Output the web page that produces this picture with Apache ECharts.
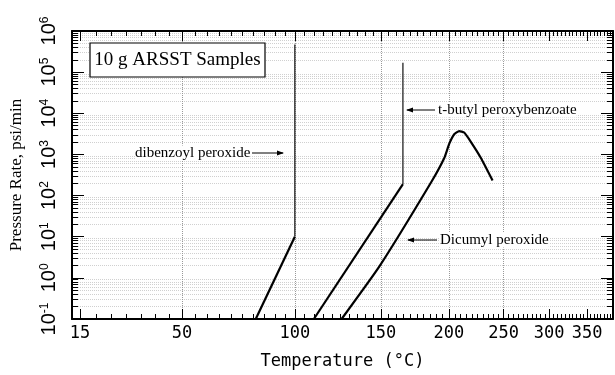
<!DOCTYPE html>
<html>
<head>
<meta charset="utf-8">
<script src="https://cdn.jsdelivr.net/npm/echarts@6/dist/echarts.min.js"></script>
<style>
html, body { margin: 0; padding: 0; background: #fff; }
#main { width: 615px; height: 375px; }
</style>
</head>
<body>
<div id="main"></div>
<script>
// temperature in degC, pressure rate in psi/min
var dbpRamp = [[81, 0.1], [100, 10]];
var dbpSpike = [[100, 10], [100, 4.7e5]];
var tbpbRamp = [[110, 0.1], [165, 190]];
var tbpbSpike = [[165, 190], [165, 1.7e5]];
var dcpCurve = [[125.6, 0.1], [149, 1.9], [186, 214], [196.3, 820], [200.4, 1830],
  [204.5, 3100], [208.7, 3700], [213, 3400], [219, 2000], [228, 820], [239, 233]];

var tempLabels = [15, 50, 100, 150, 200, 250, 300, 350];
var tempGrid = [50, 100, 150, 200, 250];
var tempMinor = [];
for (var t = 15; t <= 385; t += 5) tempMinor.push(t);
var rateMinor = [];
for (var e = -1; e < 6; e++) {
  for (var k = 2; k <= 9; k++) rateMinor.push(k * Math.pow(10, e));
}

// x axis is inverse absolute temperature (Arrhenius style)
function inv(c) { return -1000 / (c + 273.15); }
function toC(v) { return Math.round(-1000 / v - 273.15); }
function conv(arr) { return arr.map(function (p) { return [inv(p[0]), p[1]]; }); }

var xMin = inv(12.6), xMax = inv(389.3);
var chart = echarts.init(document.getElementById('main'));

var xBase = {
  type: 'value', min: xMin, max: xMax,
  axisLine: { show: true, lineStyle: { color: '#000', width: 2 } },
  splitLine: { show: false }
};
var yBase = {
  type: 'log', logBase: 10, min: 0.1, max: 1e6,
  axisLine: { show: true, lineStyle: { color: '#000', width: 2 } },
  splitLine: { show: false }
};
var serif = '"Liberation Serif", "DejaVu Serif", serif';

var option = {
  animation: false,
  grid: { left: 69, right: 2, top: 31, bottom: 44 },
  xAxis: [
    Object.assign({}, xBase, {
      position: 'bottom',
      axisTick: { inside: true, length: 10, customValues: tempLabels.map(inv), lineStyle: { color: '#000' } },
      axisLabel: {
        customValues: tempLabels.map(inv), formatter: toC, margin: 6,
        fontFamily: 'DejaVu Sans Mono', fontSize: 17, color: '#000'
      },
      name: 'Temperature (°C)', nameLocation: 'middle', nameGap: 34,
      nameTextStyle: { fontFamily: 'DejaVu Sans Mono', fontSize: 17, color: '#000' }
    }),
    Object.assign({}, xBase, {
      position: 'bottom',
      axisLine: { show: false },
      axisTick: { inside: true, length: 5, customValues: tempMinor.map(inv), lineStyle: { color: '#000' } },
      axisLabel: { show: false }
    }),
    Object.assign({}, xBase, {
      position: 'top',
      axisTick: { inside: true, length: 10, customValues: tempLabels.map(inv), lineStyle: { color: '#000' } },
      axisLabel: { show: false }
    }),
    Object.assign({}, xBase, {
      position: 'top',
      axisLine: { show: false },
      axisTick: { inside: true, length: 5, customValues: tempMinor.map(inv), lineStyle: { color: '#000' } },
      axisLabel: { show: false }
    }),
    Object.assign({}, xBase, {
      position: 'bottom',
      axisLine: { show: false },
      axisTick: { show: false, customValues: tempGrid.map(inv) },
      axisLabel: { show: false },
      splitLine: { show: true, lineStyle: { color: '#999', type: 'dotted' } }
    })
  ],
  yAxis: [
    Object.assign({}, yBase, {
      position: 'left',
      axisTick: { inside: true, length: 12, lineStyle: { color: '#000' } },
      axisLabel: {
        rotate: 90, margin: 13, color: '#000',
        formatter: function (v) { return '{b|10}{s|' + Math.round(Math.log10(v)) + '}'; },
        rich: {
          b: { fontFamily: 'Liberation Sans', fontSize: 20, color: '#000' },
          s: { fontFamily: 'Liberation Sans', fontSize: 12, color: '#000', verticalAlign: 'top' }
        }
      },
      name: 'Pressure Rate, psi/min', nameLocation: 'middle', nameGap: 47,
      nameTextStyle: { fontFamily: serif, fontSize: 17, color: '#000' }
    }),
    Object.assign({}, yBase, {
      position: 'left',
      axisLine: { show: false },
      axisTick: { inside: true, length: 6, customValues: rateMinor, lineStyle: { color: '#000' } },
      axisLabel: { show: false },
      splitLine: { show: true, lineStyle: { color: '#d0d0d0', type: 'dotted' } }
    }),
    Object.assign({}, yBase, {
      position: 'right',
      axisTick: { inside: true, length: 12, lineStyle: { color: '#000' } },
      axisLabel: { show: false }
    }),
    Object.assign({}, yBase, {
      position: 'right',
      axisLine: { show: false },
      axisTick: { inside: true, length: 6, customValues: rateMinor, lineStyle: { color: '#000' } },
      axisLabel: { show: false }
    })
  ],
  series: [
    { type: 'line', data: conv(dbpRamp), symbol: 'none', lineStyle: { color: '#000', width: 2.2 } },
    { type: 'line', data: conv(dbpSpike), symbol: 'none', lineStyle: { color: '#222', width: 1.3 } },
    { type: 'line', data: conv(tbpbRamp), symbol: 'none', lineStyle: { color: '#000', width: 2.2 } },
    { type: 'line', data: conv(tbpbSpike), symbol: 'none', lineStyle: { color: '#222', width: 1.3 } },
    { type: 'line', data: conv(dcpCurve), symbol: 'none', smooth: 0.15, lineStyle: { color: '#000', width: 2.2 } }
  ],
  graphic: [
    { type: 'rect', z: 100, shape: { x: 90, y: 43, width: 175, height: 34 },
      style: { fill: '#fff', stroke: '#000', lineWidth: 1.2 } },
    { type: 'text', z: 101, x: 177.5, y: 60,
      style: { text: '10 g ARSST Samples', font: '19px ' + serif, fill: '#000', textAlign: 'center', textVerticalAlign: 'middle' } },
    { type: 'text', z: 100, x: 135, y: 153,
      style: { text: 'dibenzoyl peroxide', font: '15px ' + serif, fill: '#000', textVerticalAlign: 'middle', backgroundColor: '#fff' } },
    { type: 'line', z: 100, shape: { x1: 252, y1: 153, x2: 283, y2: 153 }, style: { stroke: '#000', lineWidth: 1 } },
    { type: 'polygon', z: 100, shape: { points: [[284, 153], [277, 150.5], [277, 155.5]] }, style: { fill: '#000' } },
    { type: 'text', z: 100, x: 438, y: 110,
      style: { text: 't-butyl peroxybenzoate', font: '15px ' + serif, fill: '#000', textVerticalAlign: 'middle', backgroundColor: '#fff' } },
    { type: 'line', z: 100, shape: { x1: 407, y1: 110, x2: 435, y2: 110 }, style: { stroke: '#000', lineWidth: 1 } },
    { type: 'polygon', z: 100, shape: { points: [[406, 110], [413, 107.5], [413, 112.5]] }, style: { fill: '#000' } },
    { type: 'text', z: 100, x: 440, y: 240,
      style: { text: 'Dicumyl peroxide', font: '15px ' + serif, fill: '#000', textVerticalAlign: 'middle', backgroundColor: '#fff' } },
    { type: 'line', z: 100, shape: { x1: 408, y1: 240, x2: 437, y2: 240 }, style: { stroke: '#000', lineWidth: 1 } },
    { type: 'polygon', z: 100, shape: { points: [[407, 240], [414, 237.5], [414, 242.5]] }, style: { fill: '#000' } }
  ]
};
chart.setOption(option);
</script>
</body>
</html>
